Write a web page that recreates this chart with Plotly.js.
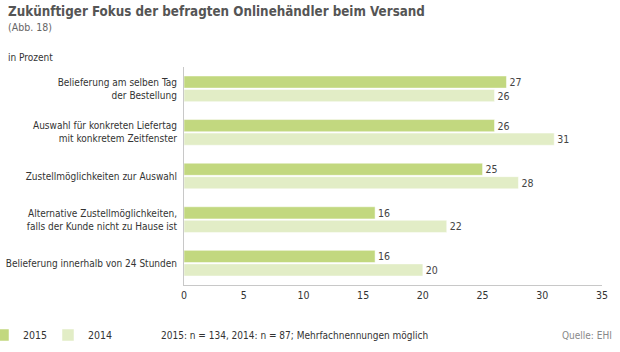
<!DOCTYPE html>
<html><head><meta charset="utf-8">
<script src="https://cdn.plot.ly/plotly-3.0.1.min.js"></script>
<style>body{margin:0;padding:0;background:#fff}#chart{width:620px;height:352px}</style>
</head><body><div id="chart"></div>
<script>
const categories = [
  "Belieferung am selben Tag<br>der Bestellung",
  "Auswahl für konkreten Liefertag<br>mit konkretem Zeitfenster",
  "Zustellmöglichkeiten zur Auswahl",
  "Alternative Zustellmöglichkeiten,<br>falls der Kunde nicht zu Hause ist",
  "Belieferung innerhalb von 24 Stunden"
];
const values2015 = [27, 26, 25, 16, 16];
const values2014 = [26, 31, 28, 22, 20];
const xTicks = [0, 5, 10, 15, 20, 25, 30, 35];

const FONT = '"DejaVu Sans Condensed", "Liberation Sans Narrow", sans-serif';
const c2015 = '#c2d87f', c2014 = '#e2edc6';
const L = 184, W = 418, T = 67, H = 218;
const px = v => (v - L) / W;
const py = v => 1 - (v - T) / H;

const traces = [
  {type:'bar', orientation:'h', name:'2015', y:categories, x:values2015,
   marker:{color:c2015, line:{color:'#fff', width:0.5}},
   text:values2015.map(String), textposition:'outside', cliponaxis:false,
   textfont:{family:FONT, size:10.5, color:'#444'}},
  {type:'bar', orientation:'h', name:'2014', y:categories, x:values2014,
   marker:{color:c2014, line:{color:'#fff', width:0.5}},
   text:values2014.map(String), textposition:'outside', cliponaxis:false,
   textfont:{family:FONT, size:10.5, color:'#444'}}
];

const layout = {
  width:620, height:352,
  margin:{l:L, r:620-L-W, t:T, b:352-T-H, autoexpand:false},
  paper_bgcolor:'#fff', plot_bgcolor:'#fff',
  font:{family:FONT, size:10, color:'#333'},
  barmode:'group', bargap:0.38, bargroupgap:0.1,
  xaxis:{range:[0,35], tickvals:xTicks, ticktext:xTicks.map(String), showgrid:false,
         zeroline:false, showline:true, linecolor:'#c8c8c8', linewidth:1, automargin:false,
         ticks:'', ticklen:0, tickfont:{family:FONT, size:10.5, color:'#333'}, fixedrange:true},
  yaxis:{autorange:'reversed', showgrid:false, zeroline:false, showline:true, automargin:false,
         linecolor:'#c8c8c8', linewidth:1, ticks:'', ticklabelstandoff:4,
         tickfont:{family:FONT, size:10, color:'#333'}, fixedrange:true},
  showlegend:true,
  legend:{orientation:'h', x:px(-17), xanchor:'left', y:py(335), yanchor:'middle',
          font:{family:FONT, size:10.5, color:'#333'}, itemwidth:30, entrywidth:20,
          entrywidthmode:'pixels', traceorder:'normal', bgcolor:'rgba(0,0,0,0)'},
  annotations:[
    {xref:'paper', yref:'paper', x:px(6), y:py(11), xanchor:'left', yanchor:'middle',
     text:'<b>Zukünftiger Fokus der befragten Onlinehändler beim Versand</b>', showarrow:false,
     font:{family:FONT, size:13.3, color:'#555'}},
    {xref:'paper', yref:'paper', x:px(6), y:py(27), xanchor:'left', yanchor:'middle',
     text:'(Abb. 18)', showarrow:false, font:{family:FONT, size:10.5, color:'#666'}},
    {xref:'paper', yref:'paper', x:px(6), y:py(57), xanchor:'left', yanchor:'middle',
     text:'in Prozent', showarrow:false, font:{family:FONT, size:10, color:'#333'}},
    {xref:'paper', yref:'paper', x:px(159), y:py(335), xanchor:'left', yanchor:'middle',
     text:'2015: n = 134, 2014: n = 87; Mehrfachnennungen möglich', showarrow:false,
     font:{family:FONT, size:10, color:'#333'}},
    {xref:'paper', yref:'paper', x:px(614), y:py(335), xanchor:'right', yanchor:'middle',
     text:'Quelle: EHI', showarrow:false, font:{family:FONT, size:10, color:'#888'}}
  ]
};

Plotly.newPlot('chart', traces, layout, {displayModeBar:false, staticPlot:true});
</script></body></html>
